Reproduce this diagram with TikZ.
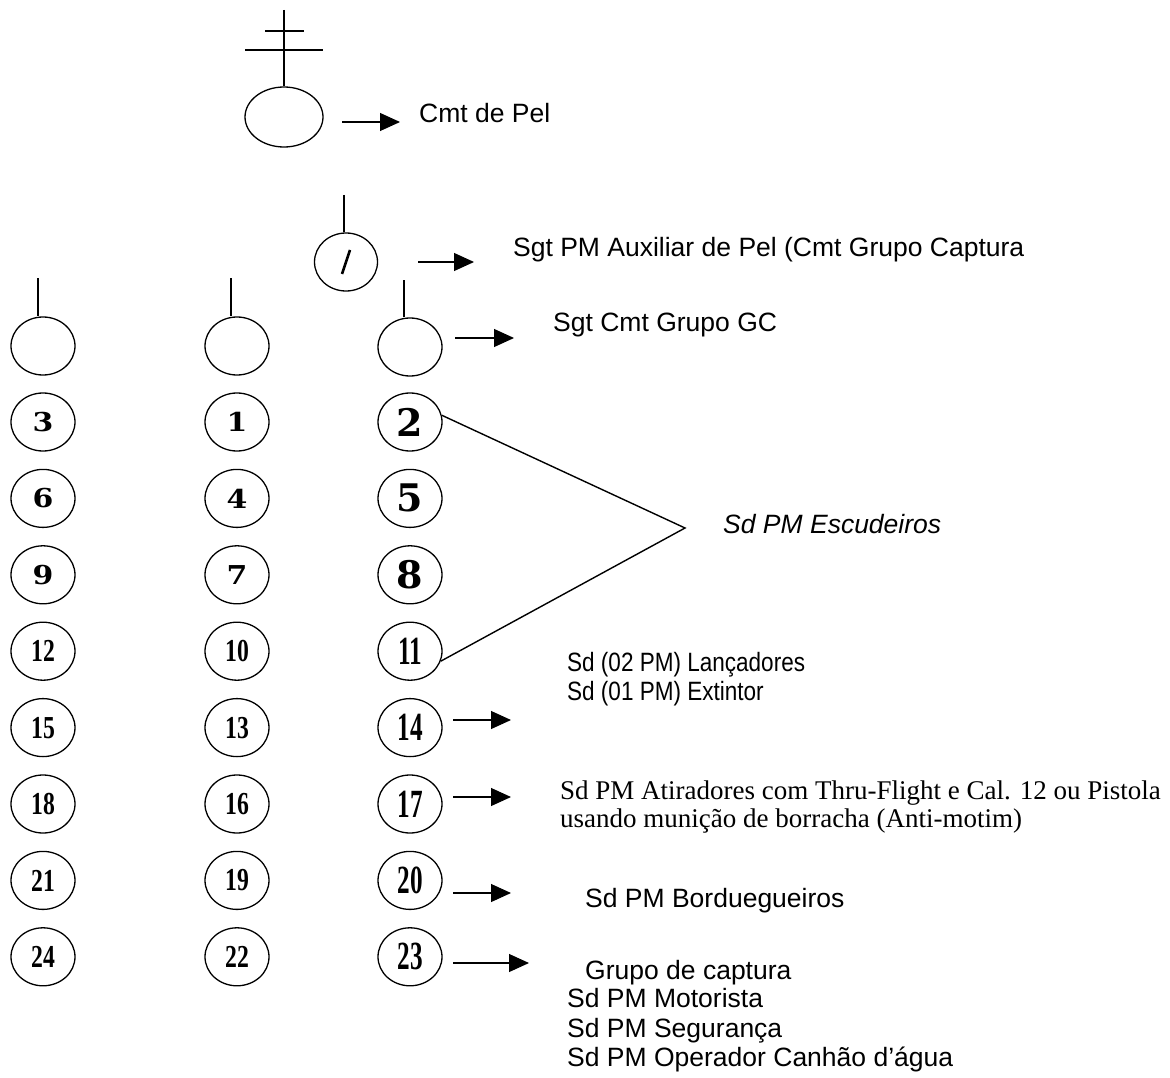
\documentclass[tikz,border=0pt]{standalone}
\usepackage{fontspec}
\usepackage{graphicx}
\setmainfont{Liberation Sans}
\newfontfamily\serifnum{Liberation Serif}
\newfontfamily\widedig{DejaVu Serif}
\newfontfamily\narrowsans[FakeStretch=0.85]{Liberation Sans}
\usetikzlibrary{shapes.geometric,arrows.meta}
\newcommand{\numA}[1]{\scalebox{1.15}[1]{\widedig\bfseries\fontsize{26}{26}\selectfont #1}}
\newcommand{\numB}[1]{{\widedig\bfseries\fontsize{38}{38}\selectfont #1}}
\newcommand{\numC}[1]{\scalebox{0.74}[1]{\serifnum\bfseries\fontsize{32}{32}\selectfont #1}}
\newcommand{\numD}[1]{\scalebox{0.63}[1]{\serifnum\bfseries\fontsize{40}{40}\selectfont #1}}
\tikzset{
  oval/.style={draw, ellipse, minimum width=64pt, minimum height=58pt, inner sep=0pt, line width=1.3pt},
  lbl/.style={anchor=base west, inner sep=0pt, font=\fontsize{26.5}{30}\selectfont},
  arr/.style={line width=1.1pt, -{Triangle[length=20pt,width=18pt]}},
  stem/.style={line width=1.2pt},
}
\begin{document}
\begin{tikzpicture}[x=1pt,y=-1pt]
\useasboundingbox (0,0) rectangle (1170,1078);
% commander
\node[oval, minimum width=78pt, minimum height=60pt] (cmt) at (284,117) {};
\coordinate (cmttop) at (284,10);
\draw[stem] (cmttop) -- (cmt.north);
\coordinate (b1l) at (265,31); \coordinate (b1r) at (304,31);
\coordinate (b2l) at (245,50); \coordinate (b2r) at (323,50);
\draw[stem] (b1l) -- (b1r);
\draw[stem] (b2l) -- (b2r);
\coordinate (a1s) at (342,122); \coordinate (a1e) at (400,122);
\draw[arr] (a1s) -- (a1e);
\node[lbl] (t1) at (419,123) {Cmt de Pel};
% sergeant auxiliar
\node[oval, minimum width=63pt, minimum height=58pt] (sgt) at (346,262) {};
\coordinate (sgttop) at (344,195);
\draw[stem] (sgttop) -- (sgttop |- sgt.north);
\draw[line width=2.6pt] ([shift={(-4,12)}]sgt.center) -- ([shift={(4,-12)}]sgt.center);
\coordinate (a2s) at (418,262); \coordinate (a2e) at (474,262);
\draw[arr] (a2s) -- (a2e);
\node[lbl] (t2) at (513,257) {Sgt PM Auxiliar de Pel (Cmt Grupo Captura};
% group heads
\node[oval] (g1) at (43,346) {};
\node[oval] (g2) at (237,346) {};
\node[oval] (g3) at (410,347) {};
\coordinate (s1) at (38,278); \coordinate (s2) at (231,278); \coordinate (s3) at (404,280);
\draw[stem] (s1) -- (s1 |- g1.north);
\draw[stem] (s2) -- (s2 |- g2.north);
\draw[stem] (s3) -- (s3 |- g3.north);
\coordinate (a3s) at (455,338); \coordinate (a3e) at (514,338);
\draw[arr] (a3s) -- (a3e);
\node[lbl] (t3) at (553,331) {Sgt Cmt Grupo GC};
% numbered soldiers
\foreach \k/\a/\b/\c in {0/3/1/2, 1/6/4/5, 2/9/7/8}{
  \pgfmathsetmacro\yy{422+76.4*\k}
  \node[oval] (n\a) at (43,\yy) {\numA{\a}};
  \node[oval] (n\b) at (237,\yy) {\numA{\b}};
  \node[oval] (n\c) at (410,\yy) {\numB{\c}};
}
\foreach \k/\a/\b/\c in {3/12/10/11, 4/15/13/14, 5/18/16/17, 6/21/19/20, 7/24/22/23}{
  \pgfmathsetmacro\yy{422+76.4*\k}
  \node[oval] (n\a) at (43,\yy) {\numC{\a}};
  \node[oval] (n\b) at (237,\yy) {\numC{\b}};
  \node[oval] (n\c) at (410,\yy) {\numD{\c}};
}
% escudeiros bracket
\coordinate (apex) at (685,528);
\draw[line width=1.4pt] (n2.12) -- (apex) -- (n11.-18);
\node[lbl, font=\itshape\fontsize{26.5}{30}\selectfont] (t4) at (723,533) {Sd PM Escudeiros};
% lancadores
\node[lbl, font=\narrowsans\fontsize{26.5}{30}\selectfont] (t5a) at (567,671) {Sd (02 PM) Lançadores};
\node[lbl, font=\narrowsans\fontsize{26.5}{30}\selectfont] (t5b) at (567,700) {Sd (01 PM) Extintor};
\coordinate (a4s) at (453,720); \coordinate (a4e) at (511,720);
\draw[arr] (a4s) -- (a4e);
% atiradores
\node[lbl, font=\serifnum\fontsize{27}{30}\selectfont] (t6a) at (560,799) {Sd PM Atiradores com Thru-Flight e Cal. 12 ou Pistola};
\node[lbl, font=\serifnum\fontsize{27}{30}\selectfont] (t6b) at (560,827) {usando munição de borracha (Anti-motim)};
\coordinate (a5s) at (453,797); \coordinate (a5e) at (511,797);
\draw[arr] (a5s) -- (a5e);
% borduegueiros
\coordinate (a6s) at (453,893); \coordinate (a6e) at (511,893);
\draw[arr] (a6s) -- (a6e);
\node[lbl] (t7) at (585,907) {Sd PM Borduegueiros};
% captura
\coordinate (a7s) at (453,963); \coordinate (a7e) at (529,963);
\draw[arr] (a7s) -- (a7e);
\node[lbl] (t8a) at (585,979) {Grupo de captura};
\node[lbl] (t8b) at (567,1007) {Sd PM Motorista};
\node[lbl] (t8c) at (567,1037) {Sd PM Segurança};
\node[lbl] (t8d) at (567,1066) {Sd PM Operador Canhão d’água};
\end{tikzpicture}
\end{document}
